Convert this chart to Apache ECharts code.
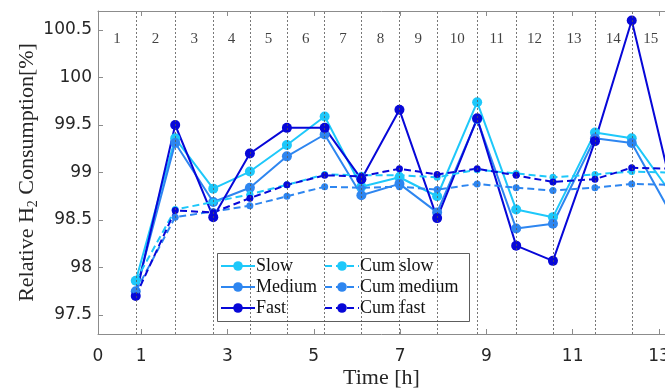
<!DOCTYPE html>
<html>
<head>
<meta charset="utf-8">
<script src="https://cdn.jsdelivr.net/npm/echarts@6/dist/echarts.min.js"></script>
<style>
  html, body { margin: 0; padding: 0; background: #fff; }
  #chart { width: 665px; height: 389px; }
</style>
</head>
<body>
<div id="chart"></div>
<script>
// time of each drive-cycle boundary [h]; the last one lies just past the visible range
const time = [0.875, 1.789, 2.671, 3.52, 4.378, 5.253, 6.104, 6.986, 7.859, 8.787, 9.691, 10.543, 11.517, 12.369, 13.25];

const slow = [97.86, 99.36, 98.83, 99.01, 99.29, 99.59, 98.85, 98.95, 98.75, 99.74, 98.61, 98.53, 99.42, 99.36, 98.80];
const medium = [97.75, 99.31, 98.69, 98.84, 99.17, 99.40, 98.76, 98.88, 98.58, 99.56, 98.41, 98.46, 99.36, 99.31, 98.59];
const fast = [97.70, 99.50, 98.53, 99.20, 99.47, 99.47, 98.93, 99.66, 98.52, 99.57, 98.23, 98.07, 99.33, 100.60, 98.92];

const cumSlow = [97.86, 98.61, 98.69, 98.77, 98.87, 98.98, 98.97, 98.97, 98.95, 99.03, 98.99, 98.95, 98.98, 99.01, 99.00];
const cumMedium = [97.75, 98.53, 98.59, 98.65, 98.75, 98.85, 98.84, 98.85, 98.82, 98.88, 98.84, 98.81, 98.84, 98.88, 98.87];
const cumFast = [97.70, 98.60, 98.58, 98.73, 98.87, 98.97, 98.96, 99.04, 98.98, 99.04, 98.97, 98.90, 98.93, 99.05, 99.04];

const regionNames = ["1", "2", "3", "4", "5", "6", "7", "8", "9", "10", "11", "12", "13", "14", "15"];

const xTicks = [0, 1, 3, 5, 7, 9, 11, 13];
const yTicks = [97.5, 98, 98.5, 99, 99.5, 100, 100.5];

const C_SLOW = "#1ec8fa";
const C_MED = "#2e86f0";
const C_FAST = "#0707d8";
const AXIS = "#8c8c8c";
const TXT = "#262626";
const SERIF = "'Liberation Serif', 'Times New Roman', serif";
const SANS = "'DejaVu Sans', sans-serif";

const pairs = (ys) => ys.map((y, i) => [time[i], y]);

function lineSeries(name, ys, color, dashed) {
  return {
    name,
    type: "line",
    data: pairs(ys),
    symbol: "circle",
    symbolSize: dashed ? 7 : 10,
    showSymbol: true,
    clip: true,
    color,
    lineStyle: { color, width: 2, type: dashed ? [7, 4] : "solid" },
    itemStyle: { color },
    emphasis: { disabled: true },
    z: dashed ? 4 : 3,
  };
}

// region label positions: halfway between consecutive boundaries
const bounds = [0].concat(time);
const regionData = regionNames.map((n, i) => ({
  value: [(bounds[i] + bounds[i + 1]) / 2, 100.40],
  name: n,
}));

const legendText = { fontFamily: SERIF, fontSize: 18, color: "#111", lineHeight: 17, padding: [0, 0, 0, -4] };

const chart = echarts.init(document.getElementById("chart"), null, { renderer: "canvas" });

chart.setOption({
  animation: false,
  backgroundColor: "#fff",
  grid: { left: 98, top: 11, right: 0, bottom: 55, containLabel: false, outerBoundsMode: "none" },
  xAxis: [
    {
      type: "value",
      min: 0,
      max: 13.14,
      name: "Time [h]",
      nameLocation: "middle",
      nameGap: 33,
      nameMoveOverlap: false,
      nameTextStyle: { fontFamily: SERIF, fontSize: 22, color: TXT },
      axisLine: { show: true, onZero: false, lineStyle: { color: AXIS, width: 1 } },
      axisTick: { show: true, inside: true, length: 5, customValues: xTicks, lineStyle: { color: AXIS } },
      axisLabel: {
        customValues: xTicks,
        margin: 14,
        fontFamily: SANS,
        fontSize: 17,
        color: TXT,
        showMaxLabel: true,
      },
      splitLine: { show: false },
    },
    {
      type: "value",
      position: "top",
      min: 0,
      max: 13.14,
      axisLine: { show: true, onZero: false, lineStyle: { color: AXIS, width: 1 } },
      axisTick: { show: true, inside: true, length: 5, customValues: xTicks, lineStyle: { color: AXIS } },
      axisLabel: { show: false },
      splitLine: { show: false },
    },
  ],
  yAxis: {
    type: "value",
    min: 97.3,
    max: 100.7,
    name: "Relative H{sub|2} Consumption[%]",
    nameLocation: "middle",
    nameRotate: 90,
    nameGap: 58,
    nameMoveOverlap: false,
    nameTextStyle: {
      fontFamily: SERIF,
      fontSize: 22,
      color: TXT,
      lineHeight: 26,
      rich: {
        sub: { fontFamily: SERIF, fontSize: 14, color: TXT, lineHeight: 14, verticalAlign: "bottom" },
      },
    },
    axisLine: { show: true, onZero: false, lineStyle: { color: AXIS, width: 1 } },
    axisTick: { show: true, inside: true, length: 5, customValues: yTicks, lineStyle: { color: AXIS } },
    axisLabel: { customValues: yTicks, margin: 6, fontFamily: SANS, fontSize: 17, color: TXT },
    splitLine: { show: false },
  },
  legend: [
    {
      data: ["Slow", "Medium", "Fast"],
      orient: "vertical",
      left: 217,
      top: 254,
      padding: 3,
      itemWidth: 34,
      itemHeight: 12,
      itemGap: 3,
      textStyle: legendText,
      z: 6,
    },
    {
      data: ["Cum slow", "Cum medium", "Cum fast"],
      orient: "vertical",
      left: 321,
      top: 254,
      padding: 3,
      itemWidth: 34,
      itemHeight: 12,
      itemGap: 3,
      textStyle: legendText,
      z: 6,
    },
  ],
  graphic: [
    {
      type: "rect",
      shape: { x: 217.5, y: 253.5, width: 252, height: 68 },
      style: { fill: "#fff", stroke: "#333", lineWidth: 0.8 },
      z: 5,
      silent: true,
    },
  ],
  series: [
    {
      name: "regions",
      type: "scatter",
      data: regionData,
      symbolSize: 0,
      silent: true,
      label: {
        show: true,
        position: "inside",
        formatter: (p) => p.name,
        fontFamily: SERIF,
        fontSize: 15,
        color: "#111",
      },
      markLine: {
        silent: true,
        symbol: "none",
        label: { show: false },
        lineStyle: { color: "#555", width: 0.8, type: [2, 2] },
        data: time.slice(0, 14).map((t) => ({ xAxis: t })),
      },
      z: 1,
    },
    lineSeries("Slow", slow, C_SLOW, false),
    lineSeries("Medium", medium, C_MED, false),
    lineSeries("Fast", fast, C_FAST, false),
    lineSeries("Cum slow", cumSlow, C_SLOW, true),
    lineSeries("Cum medium", cumMedium, C_MED, true),
    lineSeries("Cum fast", cumFast, C_FAST, true),
  ],
});
</script>
</body>
</html>
